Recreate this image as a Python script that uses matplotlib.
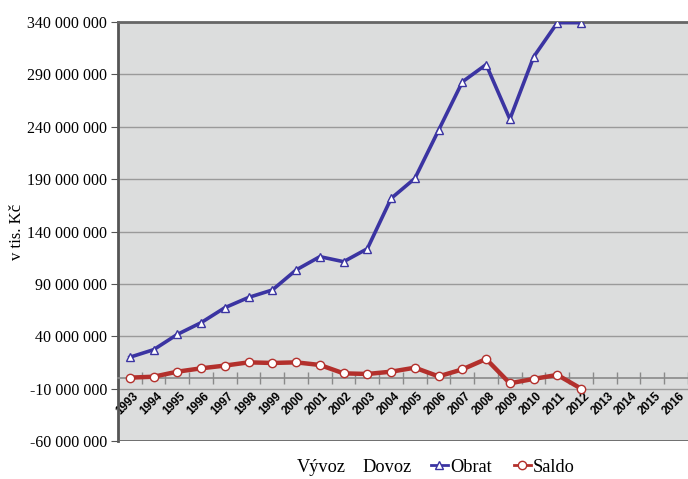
import matplotlib.pyplot as plt
import matplotlib.transforms as mtransforms
from matplotlib.lines import Line2D
from matplotlib.ticker import FuncFormatter, FixedLocator

years = [str(y) for y in range(1993, 2017)]

# hodnoty v tis. Kč
obrat = [20.0e6, 27.2e6, 41.8e6, 53.0e6, 67.3e6, 77.1e6, 84.2e6, 103.3e6, 116.0e6, 111.2e6,
         123.6e6, 171.6e6, 190.7e6, 236.8e6, 282.9e6, 299.4e6, 247.3e6, 306.7e6, 339.4e6, 339.4e6]
saldo = [0.5e6, 1.4e6, 6.2e6, 9.4e6, 12.0e6, 15.1e6, 14.5e6, 15.1e6, 12.6e6, 4.6e6,
         4.0e6, 6.2e6, 10.0e6, 1.7e6, 8.4e6, 18.3e6, -4.9e6, -0.7e6, 3.1e6, -10.0e6]

y_ticks = list(range(-60_000_000, 340_000_001, 50_000_000))

serif = 'Liberation Serif'
blue = '#3b34a2'
red = '#b3302c'

fig = plt.figure(figsize=(6.88, 4.79), dpi=100)
ax = fig.add_axes([0.1715, 0.0793, 0.8285, 0.8747])
ax.set_facecolor('#dcdddd')

x = list(range(len(obrat)))
ax.plot(x, obrat, color=blue, lw=2.6, marker='^', ms=6,
        markerfacecolor='white', markeredgecolor=blue, mew=1.0, zorder=4)
ax.plot(x, saldo, color=red, lw=3.2, marker='o', ms=6,
        markerfacecolor='white', markeredgecolor=red, mew=1.0, zorder=4)

ax.set_xlim(-0.5, len(years) - 0.5)
ax.set_ylim(y_ticks[0], y_ticks[-1])

ax.set_yticks(y_ticks)
ax.yaxis.set_major_formatter(FuncFormatter(lambda v, p: f'{int(v):,}'.replace(',', ' ')))
ax.grid(axis='y', color='#9a9a9a', lw=1.0, zorder=1)
ax.tick_params(axis='y', length=5, color='#555555', labelsize=11.5, pad=3)
for t in ax.get_yticklabels():
    t.set_fontfamily(serif)

# kategoriová osa protíná hodnotovou v nule
ax.spines['bottom'].set_position(('data', 0))
ax.spines['bottom'].set_color('#8a8a8a')
ax.spines['bottom'].set_linewidth(1.2)
ax.set_xticks(range(len(years)))
ax.set_xticklabels(years)
ax.xaxis.set_minor_locator(FixedLocator([i - 0.5 for i in range(len(years) + 1)]))
ax.tick_params(axis='x', which='major', length=0, pad=0, labelsize=8.5)
ax.tick_params(axis='x', which='minor', length=9, direction='inout', color='#8a8a8a', width=1.0)
shift = mtransforms.ScaledTranslation(0.025, -0.12, fig.dpi_scale_trans)
for t in ax.get_xticklabels():
    t.set_rotation(45)
    t.set_ha('right')
    t.set_va('top')
    t.set_rotation_mode('anchor')
    t.set_fontweight('bold')
    t.set_fontfamily('Liberation Sans')
    t.set_transform(t.get_transform() + shift)

ax.axhline(y_ticks[0], color='#666666', lw=2.0, zorder=3)
ax.spines['left'].set_color('#555555')
ax.spines['left'].set_linewidth(2.0)
ax.spines['top'].set_color('#666666')
ax.spines['top'].set_linewidth(2.0)
ax.spines['right'].set_visible(False)

ax.set_ylabel('v tis. Kč', fontfamily=serif, fontsize=12, labelpad=1)

# Vývoz a Dovoz nemají v grafu žádná data, v legendě jen text
fig.text(297 / 688, 1 - 467 / 479, 'Vývoz', family=serif, size=13.2, va='center')
fig.text(362 / 688, 1 - 467 / 479, 'Dovoz', family=serif, size=13.2, va='center')
handles = [
    Line2D([], [], color=blue, lw=2, marker='^', ms=6, markerfacecolor='white'),
    Line2D([], [], color=red, lw=2, marker='o', ms=6, markerfacecolor='white'),
]
fig.legend(handles, ['Obrat', 'Saldo'], loc='center left',
           bbox_to_anchor=(431 / 688, 1 - 467 / 479), ncol=2, frameon=False,
           handlelength=0.9, handletextpad=0.15, columnspacing=1.2,
           borderpad=0, borderaxespad=0,
           prop={'family': serif, 'size': 13.2})

fig.savefig('out.png', dpi=100)
